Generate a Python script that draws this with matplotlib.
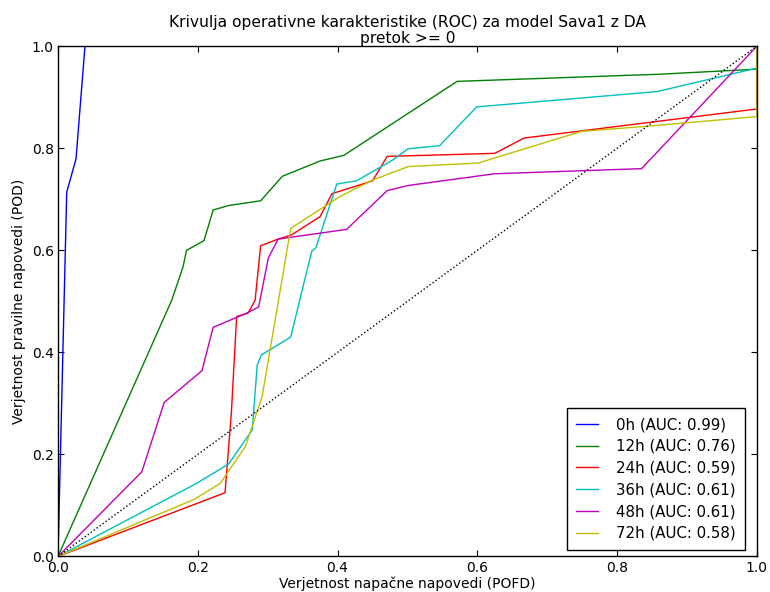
import matplotlib
matplotlib.use("Agg")
import matplotlib.pyplot as plt

# ROC curves (POFD, POD) per forecast lead time
pofd_0h = [0.0, 0.0125, 0.0258, 0.0386]
pod_0h = [0.0, 0.714, 0.779, 1.0]

pofd_12h = [0.0, 0.163, 0.179, 0.184, 0.209, 0.222, 0.245, 0.290, 0.321, 0.375, 0.409, 0.571, 0.860, 1.0, 1.0]
pod_12h = [0.0, 0.503, 0.568, 0.600, 0.619, 0.679, 0.688, 0.697, 0.745, 0.775, 0.786, 0.931, 0.945, 0.955, 1.0]

pofd_24h = [0.0, 0.239, 0.248, 0.2556, 0.272, 0.282, 0.290, 0.315, 0.334, 0.375, 0.392, 0.450, 0.471, 0.625, 0.667, 1.0, 1.0]
pod_24h = [0.0, 0.125, 0.280, 0.470, 0.477, 0.502, 0.609, 0.622, 0.630, 0.666, 0.711, 0.736, 0.784, 0.790, 0.820, 0.877, 1.0]

pofd_36h = [0.0, 0.198, 0.244, 0.278, 0.285, 0.291, 0.333, 0.363, 0.369, 0.399, 0.427, 0.479, 0.501, 0.546, 0.599, 0.857, 1.0, 1.0]
pod_36h = [0.0, 0.143, 0.181, 0.248, 0.375, 0.395, 0.430, 0.598, 0.605, 0.730, 0.736, 0.777, 0.799, 0.805, 0.881, 0.911, 0.957, 1.0]

pofd_48h = [0.0, 0.120, 0.152, 0.206, 0.222, 0.272, 0.287, 0.301, 0.315, 0.413, 0.471, 0.501, 0.625, 0.835, 1.0]
pod_48h = [0.0, 0.166, 0.302, 0.364, 0.449, 0.478, 0.489, 0.585, 0.622, 0.641, 0.717, 0.727, 0.750, 0.760, 1.0]

pofd_72h = [0.0, 0.195, 0.232, 0.268, 0.292, 0.333, 0.403, 0.451, 0.501, 0.601, 0.749, 0.842, 1.0, 1.0]
pod_72h = [0.0, 0.112, 0.143, 0.215, 0.313, 0.643, 0.705, 0.738, 0.764, 0.771, 0.833, 0.843, 0.862, 1.0]

labels = ["0h (AUC: 0.99)", "12h (AUC: 0.76)", "24h (AUC: 0.59)",
          "36h (AUC: 0.61)", "48h (AUC: 0.61)", "72h (AUC: 0.58)"]
colors = ["#0000ff", "#008000", "#ff0000", "#00bfbf", "#bf00bf", "#bfbf00"]

series = [(pofd_0h, pod_0h), (pofd_12h, pod_12h), (pofd_24h, pod_24h),
          (pofd_36h, pod_36h), (pofd_48h, pod_48h), (pofd_72h, pod_72h)]

fig = plt.figure(figsize=(7.7, 5.92), dpi=100, facecolor="white")
ax = fig.add_axes([0.0753, 0.060, 0.9077, 0.862])

for (x, y), lab, col in zip(series, labels, colors):
    ax.plot(x, y, color=col, lw=1.0, label=lab)

ax.plot([0, 1], [0, 1], color="black", ls=":", lw=1.0)

ax.set_xlim(0, 1)
ax.set_ylim(0, 1)
ax.set_xticks([0.0, 0.2, 0.4, 0.6, 0.8, 1.0])
ax.set_yticks([0.0, 0.2, 0.4, 0.6, 0.8, 1.0])
ax.tick_params(direction="in", top=True, right=True, length=4, labelsize=10, pad=3)
for s in ax.spines.values():
    s.set_linewidth(1.0)

ax.set_xlabel("Verjetnost napačne napovedi (POFD)", fontsize=10, labelpad=1)
ax.set_ylabel("Verjetnost pravilne napovedi (POD)", fontsize=10)
ax.set_title("Krivulja operativne karakteristike (ROC) za model Sava1 z DA\npretok >= 0",
             fontsize=11.2, pad=2, linespacing=1.1)

leg = ax.legend(loc="lower right", bbox_to_anchor=(0.983, 0.013), borderaxespad=0,
                fontsize=10.8, fancybox=False, framealpha=1,
                edgecolor="black", handlelength=1.5, labelspacing=0.45,
                borderpad=0.6, handletextpad=1.2)
leg.get_frame().set_linewidth(1.0)

fig.savefig("out.png", dpi=100, facecolor="white")
